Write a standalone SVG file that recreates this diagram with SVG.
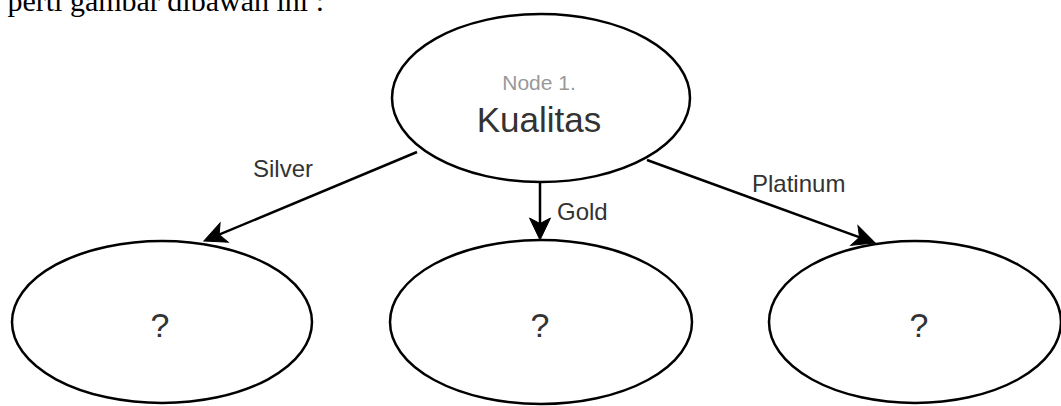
<svg xmlns="http://www.w3.org/2000/svg" width="1061" height="406" viewBox="0 0 1061 406">
<style>
.node ellipse{fill:#fff;stroke:#000;stroke-width:2.5}
.q{font-family:"Liberation Sans",Arial,sans-serif;font-size:34px;fill:#333;text-anchor:middle}
.lbl{font-family:"Liberation Sans",Arial,sans-serif;font-size:24px;fill:#333}
.edge{fill:none;stroke:#000;stroke-width:2.5}
</style>
<defs>
<marker id="arr" markerUnits="userSpaceOnUse" markerWidth="26" markerHeight="24" viewBox="-24 -12 26 24" refX="-6" refY="0" orient="auto">
<path d="M0,0 L-22,-10.5 L-16.5,0 L-22,10.5 Z" fill="#000" stroke="#000" stroke-width="1"/>
</marker>
</defs>
<rect width="1061" height="406" fill="#fff"/>
<text x="324" y="11" text-anchor="end" font-family="'Liberation Serif','Times New Roman',serif" font-size="30" fill="#000">perti gambar dibawah ini :</text>
<g id="connectors">
<line class="edge" x1="417" y1="152" x2="209.4" y2="238.7" marker-end="url(#arr)"/>
<line class="edge" x1="540" y1="183" x2="540" y2="234" marker-end="url(#arr)"/>
<line class="edge" x1="647" y1="160" x2="869.4" y2="240.9" marker-end="url(#arr)"/>
<text class="lbl" x="253" y="177">Silver</text>
<text class="lbl" x="557" y="220">Gold</text>
<text class="lbl" x="752" y="192">Platinum</text>
</g>
<g id="node1" class="node">
<ellipse cx="541" cy="98" rx="149" ry="84"/>
<text x="539" y="90" font-family="'Liberation Sans',Arial,sans-serif" font-size="21" fill="#999" text-anchor="middle">Node 1.</text>
<text x="539" y="132" font-family="'Liberation Sans',Arial,sans-serif" font-size="35" fill="#333" text-anchor="middle">Kualitas</text>
</g>
<g id="node-silver" class="node">
<ellipse cx="162" cy="322" rx="150" ry="81"/>
<text class="q" x="160" y="337">?</text>
</g>
<g id="node-gold" class="node">
<ellipse cx="541" cy="322" rx="151" ry="82"/>
<text class="q" x="540" y="337">?</text>
</g>
<g id="node-platinum" class="node">
<ellipse cx="915" cy="322" rx="146" ry="81"/>
<text class="q" x="919" y="337">?</text>
</g>
</svg>
